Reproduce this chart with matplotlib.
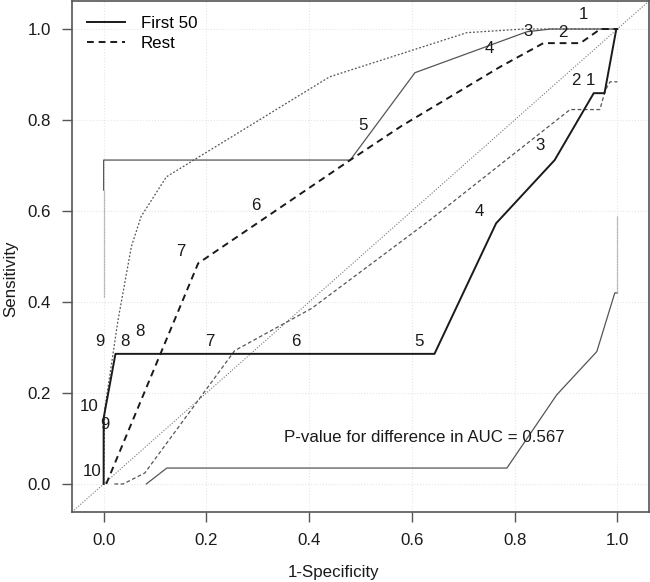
import matplotlib
matplotlib.use("Agg")
import matplotlib.pyplot as plt

plt.rcParams['font.family'] = ['Liberation Sans', 'DejaVu Sans']

# ---- data ----
first50_x = [0, 0, 0.023, 0.644, 0.764, 0.878, 0.954, 0.975, 0.998, 1.0]
first50_y = [0, 0.145, 0.286, 0.286, 0.573, 0.712, 0.859, 0.859, 1.0, 1.0]

rest_x = [0.005, 0.184, 0.48, 0.58, 0.772, 0.856, 0.928, 0.967, 1.0]
rest_y = [0.0, 0.485, 0.712, 0.787, 0.917, 0.969, 0.969, 1.0, 1.0]

first50_upper_x = [0, 0, 0.48, 0.606, 0.824, 0.87, 1.0]
first50_upper_y = [0.646, 0.712, 0.712, 0.904, 0.994, 1.0, 1.0]
first50_upper_ext_x = [0, 0]
first50_upper_ext_y = [0.412, 0.646]

first50_lower_x = [0.083, 0.123, 0.785, 0.882, 0.96, 0.995, 1.0]
first50_lower_y = [0.0, 0.035, 0.035, 0.196, 0.291, 0.42, 0.42]
first50_lower_ext_x = [1.0, 1.0]
first50_lower_ext_y = [0.42, 0.589]

rest_lower_x = [0.021, 0.038, 0.08, 0.255, 0.405, 0.635, 0.908, 0.966, 0.977, 0.986, 1.0]
rest_lower_y = [0.0, 0.0, 0.024, 0.293, 0.386, 0.58, 0.823, 0.823, 0.867, 0.884, 0.884]

rest_upper_x = [0, 0.002, 0.028, 0.054, 0.073, 0.122, 0.44, 0.707, 0.817, 1.0]
rest_upper_y = [0.0, 0.163, 0.36, 0.522, 0.588, 0.675, 0.895, 0.992, 1.0, 1.0]

first50_labels = ["10", "9", "8", "7", "6", "5", "4", "3", "2", "1"]
first50_lab_x = [-0.023, 0.003, 0.041, 0.207, 0.374, 0.613, 0.732, 0.85, 0.92, 0.947]
first50_lab_y = [0.027, 0.13, 0.313, 0.313, 0.313, 0.313, 0.598, 0.743, 0.886, 0.886]

rest_labels = ["10", "9", "8", "7", "6", "5", "4", "3", "2", "1"]
rest_lab_x = [-0.029, -0.008, 0.07, 0.151, 0.296, 0.505, 0.751, 0.827, 0.894, 0.934]
rest_lab_y = [0.17, 0.313, 0.336, 0.51, 0.613, 0.787, 0.958, 0.994, 0.993, 1.031]

ticks = [0.0, 0.2, 0.4, 0.6, 0.8, 1.0]
tick_labels = ["0.0", "0.2", "0.4", "0.6", "0.8", "1.0"]
pvalue_text = "P-value for difference in AUC = 0.567"

FS = 12.2

# ---- figure ----
fig = plt.figure(figsize=(6.5, 5.82), dpi=100)
ax = fig.add_axes([72 / 650, 1 - 512 / 582, 577 / 650, 511 / 582])

lo, hi = -0.0616, 1.0616
ax.set_xlim(lo, hi)
ax.set_ylim(lo, hi)

for t in ticks:
    ax.axvline(t, color='#e6e6e6', lw=0.8, ls=':', zorder=0)
    ax.axhline(t, color='#e6e6e6', lw=0.8, ls=':', zorder=0)

ax.axline((0, 0), slope=1, color='#777777', lw=0.8, ls=(0, (1, 1.5)), zorder=1)

thin = '#555555'
ax.plot(first50_upper_x, first50_upper_y, color=thin, lw=0.9, zorder=2)
ax.plot(first50_lower_x, first50_lower_y, color=thin, lw=0.9, zorder=2)
ax.plot(first50_upper_ext_x, first50_upper_ext_y, color='#999999', lw=0.9,
        ls=(0, (1, 0.6)), zorder=2)
ax.plot(first50_lower_ext_x, first50_lower_ext_y, color='#999999', lw=0.9,
        ls=(0, (1, 0.6)), zorder=2)
ax.plot(rest_lower_x, rest_lower_y, color=thin, lw=0.9, ls=(0, (3, 2)), zorder=2)
ax.plot(rest_upper_x, rest_upper_y, color=thin, lw=0.9, ls=(0, (1.5, 1.5)), zorder=2)

ax.plot(first50_x, first50_y, color='#1a1a1a', lw=1.4, zorder=3, label='First 50')
ax.plot(rest_x, rest_y, color='#1a1a1a', lw=1.4, ls=(0, (3.5, 2.5)), zorder=3, label='Rest')

for s, x, y in zip(first50_labels, first50_lab_x, first50_lab_y):
    ax.text(x, y, s, ha='center', va='center', fontsize=FS, color='#1a1a1a', zorder=4)
for s, x, y in zip(rest_labels, rest_lab_x, rest_lab_y):
    ax.text(x, y, s, ha='center', va='center', fontsize=FS, color='#1a1a1a', zorder=4)

ax.text(0.624, 0.103, pvalue_text, ha='center', va='center', fontsize=FS, color='#1a1a1a')

ax.set_xticks(ticks)
ax.set_xticklabels(tick_labels)
ax.set_yticks(ticks)
ax.set_yticklabels(tick_labels)
ax.tick_params(axis='both', length=7, width=1, color='#555555', labelsize=FS,
               labelcolor='#1a1a1a', pad=8)
for sp in ax.spines.values():
    sp.set_color('#555555')
    sp.set_linewidth(1.2)

ax.set_xlabel('1-Specificity', fontsize=FS, color='#1a1a1a')
ax.set_ylabel('Sensitivity', fontsize=FS, color='#1a1a1a')
ax.xaxis.set_label_coords((334 - 72) / 577, (512 - 573) / 511)
ax.xaxis.label.set_va('center')
ax.yaxis.set_label_coords((11 - 72) / 577, (512 - 279) / 511)
ax.yaxis.label.set_va('center')

ax.legend(loc='upper left', frameon=False, fontsize=FS, handlelength=2.2,
          handletextpad=0.95, borderaxespad=0.5, labelspacing=0.3)

fig.savefig('out.png', dpi=100)
